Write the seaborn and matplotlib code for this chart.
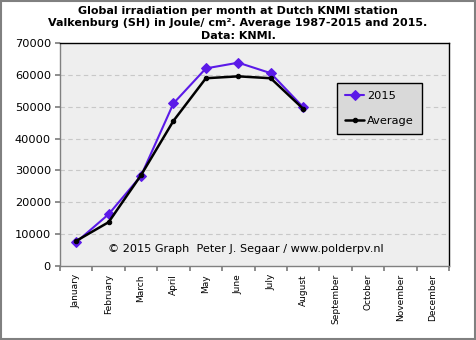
import matplotlib
matplotlib.use("Agg")
import matplotlib.pyplot as plt
import seaborn as sns
import pandas as pd
from matplotlib.patches import Rectangle

months = ["January", "February", "March", "April", "May", "June", "July",
          "August", "September", "October", "November", "December"]
irr_2015 = [7400, 16200, 28300, 51100, 62100, 63900, 60600, 49900]
irr_avg = [7800, 13700, 28500, 45600, 59000, 59600, 59000, 49400]

sns.set_theme(style="white")
plt.rcParams["font.family"] = ["DejaVu Sans"]
plt.rcParams["text.color"] = "black"
plt.rcParams["xtick.color"] = "black"
plt.rcParams["ytick.color"] = "black"

fig = plt.figure(figsize=(4.76, 3.40), dpi=100)
ax = fig.add_axes([60 / 476, 1 - 265.7 / 340, 389 / 476, 222.4 / 340])
ax.set_facecolor("#EEEEEE")

df = pd.DataFrame({
    "month": list(range(len(irr_2015))) * 2,
    "value": irr_2015 + irr_avg,
    "series": ["2015"] * len(irr_2015) + ["Average"] * len(irr_avg),
})

purple = "#5B1AE8"
sns.lineplot(data=df[df.series == "2015"], x="month", y="value", ax=ax,
             color=purple, lw=1.5, marker="D", markersize=4.8,
             markeredgecolor=purple, label="2015", zorder=3)
sns.lineplot(data=df[df.series == "Average"], x="month", y="value", ax=ax,
             color="black", lw=1.8, marker="o", markersize=3.2,
             markeredgecolor="black", label="Average", zorder=4)

ax.set_xlim(-0.5, 11.5)
ax.set_ylim(0, 70000)
ax.set_yticks(range(0, 70001, 10000))
ax.set_yticklabels([str(v) for v in range(0, 70001, 10000)], fontsize=8.2)
ax.set_xticks([i + 0.5 for i in range(-1, 12)])
ax.set_xticklabels([])
ax.set_xticks(range(12), minor=True)
ax.set_xticklabels(months, minor=True, rotation=90, fontsize=6.5, va="top")
ax.tick_params(axis="x", which="minor", length=0, pad=6)
ax.tick_params(axis="x", which="major", length=3.5, color="#808080", direction="out")
ax.tick_params(axis="y", length=3.5, color="#808080", direction="out", pad=3)
ax.tick_params(bottom=True, left=True)
ax.set_xlabel("")
ax.set_ylabel("")

for y in range(10000, 70000, 10000):
    ax.axhline(y, color="#C8C8C8", lw=0.8, ls=(0, (4, 3)), zorder=1)

ax.spines["top"].set_color("black")
ax.spines["right"].set_color("black")
ax.spines["left"].set_color("#808080")
ax.spines["bottom"].set_color("#808080")
for s in ax.spines.values():
    s.set_linewidth(1.0)

leg = ax.legend(loc="upper left", bbox_to_anchor=((337 - 60) / 389, 1 - (83 - 43.3) / 222.4),
                borderaxespad=0, frameon=True, fontsize=8.2, handlelength=1.7,
                labelspacing=1.3, borderpad=0.7, handletextpad=0.25, fancybox=False)
leg.get_frame().set_facecolor("#D9D9D9")
leg.get_frame().set_edgecolor("black")
leg.get_frame().set_linewidth(1.0)
leg.get_frame().set_alpha(1)

ax.text(0.124, 0.075, "© 2015 Graph  Peter J. Segaar / www.polderpv.nl",
        transform=ax.transAxes, fontsize=8.1, va="center", ha="left")

fig.text(0.5, 1 - 23.5 / 340,
         "Global irradiation per month at Dutch KNMI station\n"
         "Valkenburg (SH) in Joule/ cm². Average 1987-2015 and 2015.\n"
         "Data: KNMI.",
         ha="center", va="center", fontsize=8, fontweight="bold", linespacing=1.3)

fig.patches.append(Rectangle((0.002, 0.003), 0.996, 0.994, transform=fig.transFigure,
                             fill=False, edgecolor="#808080", lw=1.5))

fig.savefig("out.png", dpi=100)
